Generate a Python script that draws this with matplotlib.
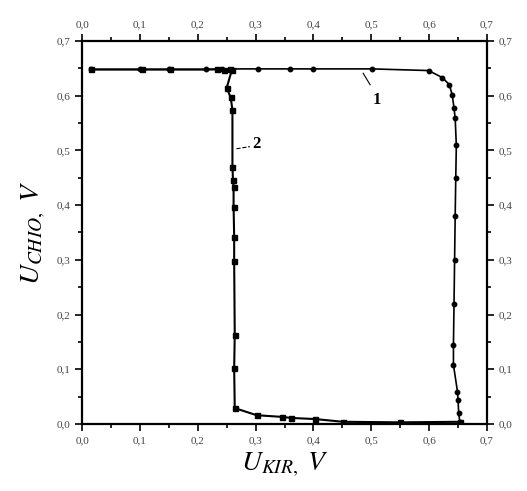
import matplotlib
matplotlib.use("Agg")
import matplotlib.pyplot as plt
from matplotlib.ticker import MultipleLocator, FuncFormatter

# Curve 1 (circles): U_CHIO vs U_KIR
c1_x = [0.015, 0.10, 0.15, 0.215, 0.242, 0.304, 0.359, 0.399, 0.501, 0.599, 0.623,
        0.635, 0.640, 0.643, 0.645, 0.647, 0.646, 0.645, 0.644, 0.643, 0.642, 0.642,
        0.649, 0.650, 0.651, 0.653]
c1_y = [0.648, 0.648, 0.648, 0.648, 0.649, 0.649, 0.649, 0.649, 0.649, 0.646, 0.633,
        0.620, 0.601, 0.577, 0.559, 0.509, 0.45, 0.38, 0.30, 0.22, 0.144, 0.108,
        0.059, 0.044, 0.020, 0.004]

# Curve 2 (squares)
c2_x = [0.015, 0.103, 0.152, 0.233, 0.245, 0.255, 0.259, 0.250, 0.257, 0.260, 0.260,
        0.261, 0.262, 0.262, 0.263, 0.263, 0.264, 0.263, 0.264, 0.302, 0.345, 0.362,
        0.403, 0.451, 0.55, 0.653]
c2_y = [0.648, 0.648, 0.648, 0.648, 0.647, 0.649, 0.647, 0.614, 0.597, 0.574, 0.470,
        0.446, 0.434, 0.397, 0.342, 0.298, 0.163, 0.102, 0.029, 0.016, 0.013, 0.011,
        0.009, 0.004, 0.003, 0.004]

tick_vals = [0.0, 0.1, 0.2, 0.3, 0.4, 0.5, 0.6, 0.7]

plt.rcParams['mathtext.fontset'] = 'stix'
plt.rcParams['font.family'] = ['Liberation Serif', 'DejaVu Serif']

fig = plt.figure(figsize=(5.27, 4.91), dpi=100)
ax = fig.add_axes([0.1556, 0.1365, 0.7685, 0.78])

ax.plot(c1_x, c1_y, color='black', lw=1.2, marker='o', ms=3.2,
        mfc='black', mec='black', zorder=3)
ax.plot(c2_x, c2_y, color='black', lw=1.5, marker='s', ms=3.6,
        mfc='black', mec='black', zorder=3)

ax.set_xlim(0, 0.7)
ax.set_ylim(0, 0.7)

fmt = FuncFormatter(lambda v, p: f"{v:.1f}".replace('.', ','))
ax.xaxis.set_major_locator(MultipleLocator(0.1))
ax.xaxis.set_minor_locator(MultipleLocator(0.05))
ax.yaxis.set_major_locator(MultipleLocator(0.1))
ax.yaxis.set_minor_locator(MultipleLocator(0.05))
ax.xaxis.set_major_formatter(fmt)
ax.yaxis.set_major_formatter(fmt)

ax.tick_params(which='both', direction='out', top=True, right=True,
               labeltop=True, labelright=True, width=1.2, colors='black',
               labelcolor='#444444', labelsize=8)
ax.tick_params(which='major', length=5)
ax.tick_params(which='minor', length=3)

for s in ax.spines.values():
    s.set_linewidth(1.6)

ax.set_xlabel(r'$U_{KIR,}\ V$', fontsize=20, labelpad=4)
ax.set_ylabel(r'$U_{CHIO,}\ V$', fontsize=20, labelpad=6)

ax.plot([0.486, 0.498], [0.641, 0.620], color='black', lw=0.8)
ax.text(0.503, 0.592, '1', fontsize=12, fontweight='bold', ha='left', va='center')
ax.plot([0.267, 0.290], [0.503, 0.507], color='black', lw=0.8, ls='--')
ax.text(0.294, 0.512, '2', fontsize=12, fontweight='bold', ha='left', va='center')

fig.savefig('out.png', dpi=100)
